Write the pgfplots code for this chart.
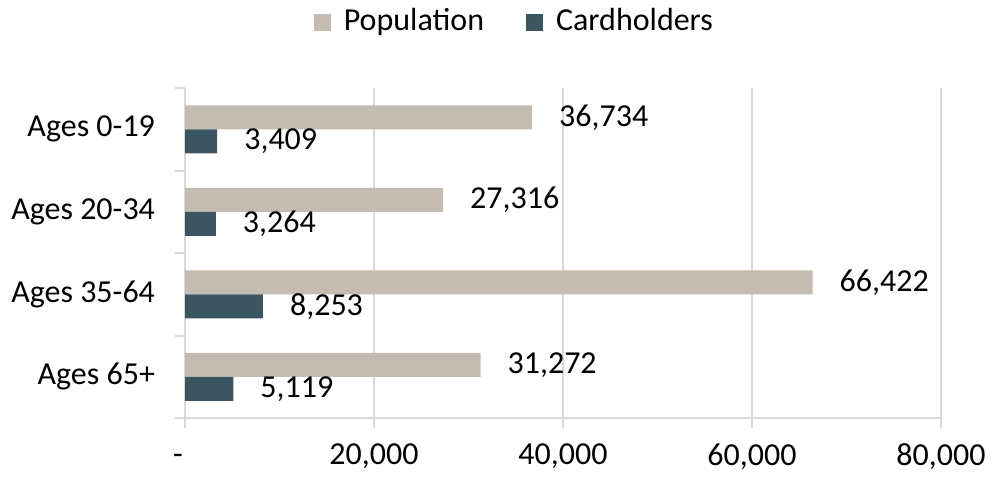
\documentclass[border=0pt]{standalone}
\usepackage{pgfplots}
\pgfplotsset{compat=1.18}
\usepackage{fontspec}
\setmainfont{Carlito}
\definecolor{popc}{HTML}{C4BCB0}
\definecolor{cardc}{HTML}{3B5661}
\definecolor{gridc}{HTML}{D9D9D9}
\begin{document}
\fontsize{16bp}{19bp}\selectfont
\begin{tikzpicture}
\useasboundingbox (0,0) rectangle (495.5bp,238.5bp);
\begin{axis}[
  at={(92.5bp,29.5bp)}, anchor=south west,
  width=378bp, height=165bp, scale only axis,
  xbar, bar width=12bp,
  xmin=0, xmax=80000,
  ymin=-0.5, ymax=3.5,
  axis x line*=bottom, axis y line*=left,
  axis line style={gridc, line width=1bp},
  every tick/.style={gridc, line width=1bp},
  tick align=outside, major tick length=5bp,
  xmajorgrids, grid style={gridc, line width=1bp},
  xtick={0,20000,40000,60000,80000},
  scaled x ticks=false,
  xticklabel={\ifnum\ticknum=0 \hspace*{-7bp}-\vphantom{0}\else\pgfmathprintnumber{\tick}\fi},
  xticklabel style={yshift=-2.5bp},
  ytick={-0.5,0.5,1.5,2.5,3.5}, yticklabels={},
  extra y ticks={0,1,2,3},
  extra y tick labels={Ages 65+,Ages 35-64,Ages 20-34,Ages 0-19},
  extra y tick style={major tick length=0pt, yticklabel style={xshift=-9.5bp}},
  /pgf/number format/.cd, fixed, precision=0, 1000 sep={,}, assume math mode=true,
  /pgfplots/.cd,
  nodes near coords,
  every node near coord/.append style={anchor=west, xshift=8bp, font=\fontsize{16bp}{19bp}\selectfont, text=black},
  legend style={draw=none, at={(0.437,1.20)}, anchor=center, legend columns=2,
    /tikz/every even column/.append style={column sep=19bp},
    font=\fontsize{16bp}{19bp}\selectfont},
  legend cell align=left,
]
\addplot[fill=popc, draw=none, bar shift=6bp,
  legend image code/.code={\fill[popc] (0bp,-4.25bp) rectangle (8.5bp,4.25bp); \path (13bp,0);}]
  coordinates {(31272,0) (66422,1) (27316,2) (36734,3)};
\addlegendentry{Population}
\addplot[fill=cardc, draw=none, bar shift=-6bp,
  legend image code/.code={\fill[cardc] (0bp,-4.25bp) rectangle (8.5bp,4.25bp); \path (13bp,0);}]
  coordinates {(5119,0) (8253,1) (3264,2) (3409,3)};
\addlegendentry{Cardholders}
\end{axis}
\end{tikzpicture}
\end{document}
